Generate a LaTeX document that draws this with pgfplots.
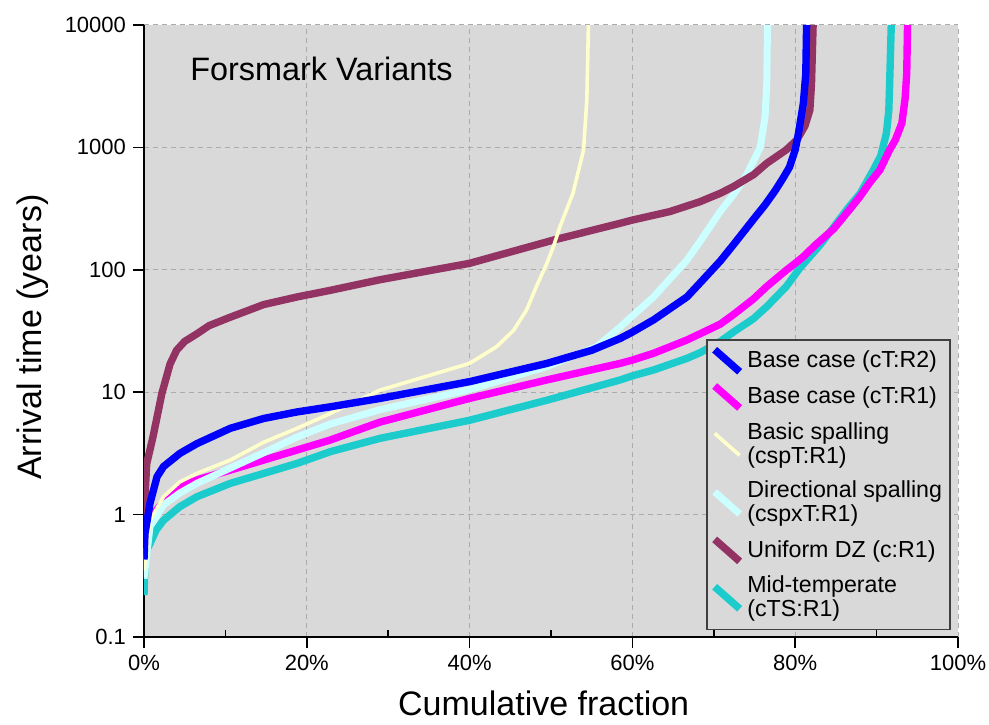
\documentclass[border=0pt]{standalone}
\usepackage{fontspec}
\setmainfont{Liberation Sans}
\usepackage{pgfplots}
\pgfplotsset{compat=1.18}

\definecolor{bgpanel}{HTML}{D9D9D9}
\definecolor{gridgray}{HTML}{ABABAB}
\definecolor{cBlue}{HTML}{0000FF}
\definecolor{cMagenta}{HTML}{FF00FF}
\definecolor{cYellow}{HTML}{FFFFCC}
\definecolor{cCyan}{HTML}{CCFFFF}
\definecolor{cPlum}{HTML}{933363}
\definecolor{cTeal}{HTML}{1CCCCC}

\pgfplotsset{
  sBlue/.style={cBlue, line width=3.7pt, line join=round},
  sMagenta/.style={cMagenta, line width=3.7pt, line join=round},
  sYellow/.style={cYellow, line width=1.8pt, line join=round},
  sCyan/.style={cCyan, line width=3.5pt, line join=round},
  sPlum/.style={cPlum, line width=3.7pt, line join=round},
  sTeal/.style={cTeal, line width=3.7pt, line join=round},
}

\begin{document}
\begin{tikzpicture}
\begin{axis}[
  name=ax,
  scale only axis,
  width=407pt, height=306pt,
  ymode=log,
  xmin=0, xmax=100,
  ymin=0.1, ymax=10000,
  axis background/.style={fill=bgpanel},
  axis x line*=bottom,
  axis y line*=left,
  axis line style={black, line width=0.75pt},
  xtick={0,20,40,60,80,100},
  xticklabels={0\%,20\%,40\%,60\%,80\%,100\%},
  minor xtick={10,30,50,70,90},
  ytick={0.1,1,10,100,1000,10000},
  yticklabels={0.1,1,10,100,1000,10000},
  minor y tick style={draw=none},
  tick align=outside,
  major tick length=5.5pt,
  minor tick length=-3.5pt,
  tick style={black, line width=0.75pt},
  grid=major,
  major grid style={gridgray, line width=0.5pt, dash pattern=on 2.5pt off 2pt},
  ticklabel style={font=\fontsize{11}{13}\selectfont},
  xlabel={Cumulative fraction},
  ylabel={Arrival time (years)},
  label style={font=\fontsize{17}{20}\selectfont},
  xlabel style={at={(axis description cs:0.491,-0.129)}, anchor=base},
  ylabel style={at={(axis description cs:-0.1253,0.49)}, anchor=base, rotate=0},
  legend image code/.code={\draw[#1, line cap=butt] (0pt,5.5pt) -- (12.5pt,-5.5pt);},
  legend cell align=left,
  legend style={
    at={(0.991,0.011)}, anchor=south east,
    fill=bgpanel, draw=black!75, line width=0.6pt,
    font=\fontsize{11.6}{12}\selectfont,
    cells={align=left},
    row sep=3.4pt,
    inner xsep=2pt, inner ysep=3pt,
  },
  clip=true,
]

% drawing order: turquoise, magenta, light cyan, plum, light yellow, blue
\addplot[sTeal, forget plot] coordinates {
(0,0.22) (0.12,0.4) (0.33,0.51) (0.74,0.58) (1.5,0.75) (2.4,0.9) (4.4,1.16)
(6.5,1.4) (10.6,1.8) (14.7,2.17) (18.8,2.62) (22.9,3.27) (29,4.2) (40,5.9)
(49.5,8.6) (58.5,12.6) (60,13.6) (62.6,15.2) (66.7,18.9) (68.3,21) (70.8,26)
(72.4,31) (74.9,40) (76.5,50) (78.9,73) (80.6,104) (83,158) (84.7,222)
(86.5,320) (88,422) (89.6,653) (90.5,850) (91.2,1300) (91.5,2000) (91.6,3300)
(91.8,10000)
};

\addplot[sMagenta, forget plot] coordinates {
(0,0.32) (0.12,0.6) (0.74,0.9) (1.6,1.1) (2.4,1.27) (4.4,1.69) (6.5,1.92)
(10.6,2.31) (14.7,2.79) (18.8,3.37) (22.9,4.07) (29,5.7) (40,8.9) (49.5,12.6)
(58.5,17.2) (60,18.3) (62.6,20.8) (66.7,26.7) (68.3,30) (70.8,36) (72.4,43)
(74.9,58) (76.5,73) (78.8,98) (80,113) (81,128) (82.5,160) (84.7,215)
(86.5,300) (88,400) (89.2,520) (90.4,653) (91.6,955) (92.3,1150) (93.1,1575)
(93.5,2500) (93.7,4000) (93.8,10000)
};

\addplot[sCyan, forget plot] coordinates {
(0,0.3) (0.74,0.8) (2.4,1.2) (4.4,1.5) (6.5,1.8) (10.6,2.4) (14.7,3.2)
(18.8,4.3) (22.9,5.5) (29,7.2) (40,10.5) (49.5,16.2) (55.6,23.5) (58.5,34)
(60,42) (62.6,60) (66.7,120) (68.3,170) (70.8,300) (72.4,410) (73.2,490)
(74,590) (75.7,1000) (76.3,1780) (76.5,3300) (76.6,10000)
};

\addplot[sPlum, forget plot] coordinates {
(0,0.55) (0.1,1.3) (0.33,2.6) (1.1,4.3) (2.2,9.8) (3.2,17) (4,22) (5,26)
(6.5,30) (8,35) (10.6,41) (14.7,52) (18.8,60) (22.9,68) (29,83) (40,113)
(50.3,175) (58.5,240) (60,255) (64.6,299) (68.3,360) (70.8,422) (72.4,478)
(74.9,600) (76.5,741) (78.9,955) (80.2,1150) (81.2,1500) (81.8,2020)
(82,3300) (82.2,10000)
};

\addplot[sYellow, forget plot] coordinates {
(0,0.35) (0.74,0.9) (2.4,1.4) (4.4,1.85) (6.5,2.17) (10.6,2.79) (14.7,3.9)
(18.8,5.07) (22.9,6.7) (29,10.4) (40,17.2) (43.3,23.5) (45.4,32) (47,47)
(48.2,73) (49.5,113) (50.3,155) (51.1,225) (52.7,422) (53.6,741) (54,955)
(54.4,2440) (54.6,10000)
};

\addplot[sBlue, forget plot] coordinates {
(0,0.43) (0.12,0.7) (0.74,1.24) (1.6,2.04) (2.4,2.47) (4.4,3.16) (6.5,3.8)
(10.6,5.07) (14.7,6.1) (18.8,6.9) (22.9,7.6) (29,8.9) (40,12.2) (49.5,17.2)
(55,22) (58.5,27.5) (60,31) (62.6,39) (66.7,60) (68.3,78) (70.8,118)
(72.4,160) (74.9,260) (76.3,340) (77.5,440) (78.5,560) (79.3,690) (80,955)
(80.4,1300) (81,2290) (81.3,4000) (81.4,10000)
};

% legend, in the order of the series list
\addlegendimage{sBlue}
\addlegendentry{Base case (cT:R2)}
\addlegendimage{sMagenta}
\addlegendentry{Base case (cT:R1)}
\addlegendimage{sYellow}
\addlegendentry{Basic spalling\\(cspT:R1)}
\addlegendimage{sCyan}
\addlegendentry{Directional spalling\\(cspxT:R1)}
\addlegendimage{sPlum}
\addlegendentry{Uniform DZ (c:R1)}
\addlegendimage{sTeal}
\addlegendentry{Mid-temperate\\(cTS:R1)}

\node[anchor=base west, font=\fontsize{16.2}{19}\selectfont, inner sep=0pt]
  at (rel axis cs:0.0565,0.91) {Forsmark Variants};
\end{axis}
\pgfresetboundingbox
\path[use as bounding box]
  ([shift={(-72pt,-43.5pt)}]ax.south west) rectangle
  ([shift={(15.5pt,12.5pt)}]ax.north east);
\end{tikzpicture}
\end{document}
